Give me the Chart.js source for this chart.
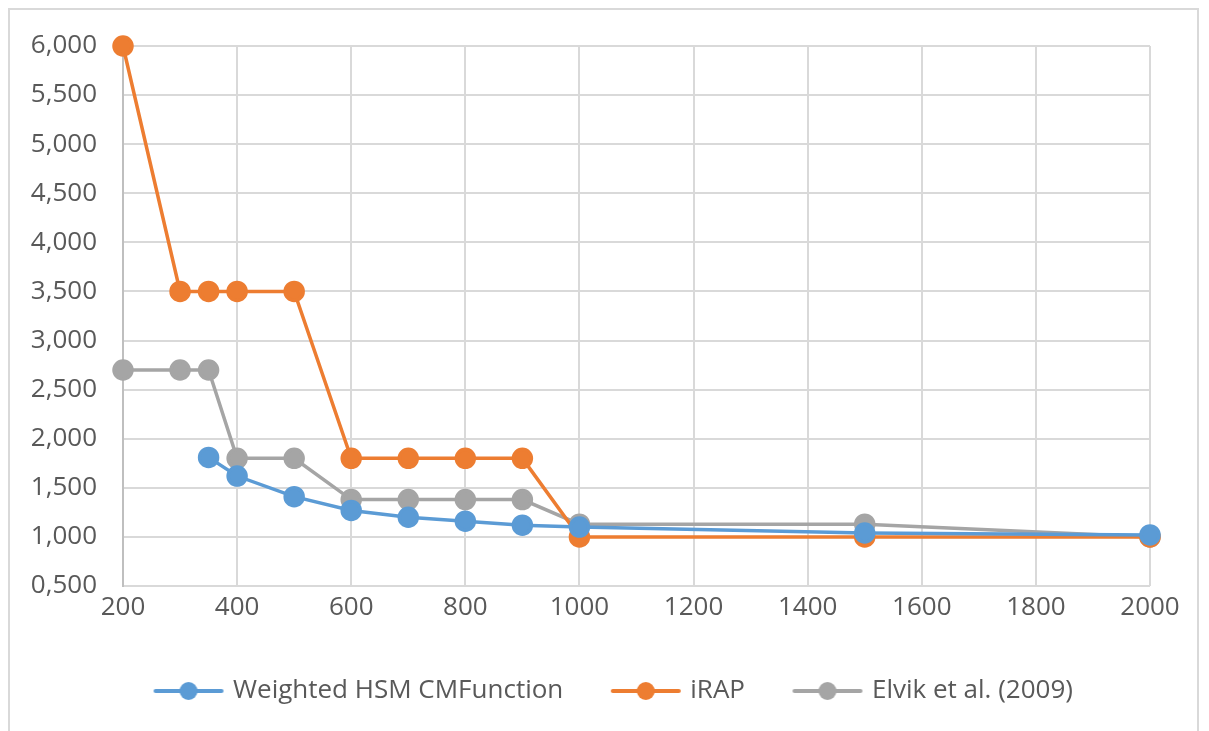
<!DOCTYPE html>
<html><head><meta charset="utf-8">
<script src="https://cdn.jsdelivr.net/npm/chart.js@4"></script>
<style>
html,body{margin:0;padding:0;background:#fff;}
#frame{position:absolute;left:8px;top:8px;width:1191px;height:740px;border:2px solid #d9d9d9;box-sizing:border-box;}
#wrap{position:absolute;left:0;top:0;width:1209px;height:731px;}
</style></head>
<body>
<div id="frame"></div>
<div id="wrap"><canvas id="c" width="1209" height="731"></canvas></div>
<script>
const weightedX = [350, 400, 500, 600, 700, 800, 900, 1000, 1500, 2000];
const weightedY = [1.81, 1.62, 1.41, 1.27, 1.20, 1.16, 1.12, 1.10, 1.04, 1.02];
const irapX = [200, 300, 350, 400, 500, 600, 700, 800, 900, 1000, 1500, 2000];
const irapY = [6.0, 3.5, 3.5, 3.5, 3.5, 1.8, 1.8, 1.8, 1.8, 1.0, 1.0, 1.0];
const elvikX = [200, 300, 350, 400, 500, 600, 700, 800, 900, 1000, 1500, 2000];
const elvikY = [2.7, 2.7, 2.7, 1.8, 1.8, 1.38, 1.38, 1.38, 1.38, 1.13, 1.13, 1.0];
const seriesNames = ['Weighted HSM CMFunction', 'iRAP', 'Elvik et al. (2009)'];
const seriesColors = ['#5B9BD5', '#ED7D31', '#A5A5A5'];

function pts(xs, ys){ return xs.map((x,i)=>({x:x, y:ys[i]})); }
function legendIcon(color){
  const cv = document.createElement('canvas');
  cv.width = 72; cv.height = 22;
  const g = cv.getContext('2d');
  g.strokeStyle = color; g.lineWidth = 4; g.lineCap = 'round';
  g.beginPath(); g.moveTo(3,11); g.lineTo(69,11); g.stroke();
  g.fillStyle = color; g.beginPath(); g.arc(36,11,9,0,Math.PI*2); g.fill();
  return cv;
}
const icons = seriesColors.map(legendIcon);
const font = "'Open Sans', 'Noto Sans', sans-serif";

const datasets = [
  {label: seriesNames[0], data: pts(weightedX, weightedY)},
  {label: seriesNames[1], data: pts(irapX, irapY)},
  {label: seriesNames[2], data: pts(elvikX, elvikY)}
].map((d,i)=>Object.assign(d,{
  borderColor: seriesColors[i], backgroundColor: seriesColors[i],
  pointBackgroundColor: seriesColors[i], pointBorderColor: seriesColors[i],
  borderWidth: 3.5, pointRadius: 9, pointHoverRadius: 9, tension: 0,
  pointStyle: 'circle', clip: false
}));

const shiftLegend = {
  id: 'shiftLegend',
  afterLayout(chart){ if (chart.legend){ chart.legend.left += 40; chart.legend.right += 40; } }
};

new Chart(document.getElementById('c'), {
  type: 'line',
  data: { datasets },
  plugins: [shiftLegend],
  options: {
    responsive: false, animation: false,
    layout: { padding: { left: 0, right: 59, top: 46, bottom: 17 } },
    plugins: {
      tooltip: { enabled: false },
      legend: {
        position: 'bottom',
        labels: {
          usePointStyle: true,
          pointStyleWidth: 63,
          font: { family: font, size: 26 },
          color: '#595959',
          padding: 51,
          generateLabels: (chart) => chart.data.datasets.map((d,i)=>({
            text: d.label, fillStyle: d.borderColor, strokeStyle: d.borderColor,
            pointStyle: icons[i], datasetIndex: i, hidden: false, lineWidth: 0, fontColor: '#595959'
          }))
        }
      }
    },
    scales: {
      x: {
        type: 'linear', min: 200, max: 2000,
        ticks: { stepSize: 200, color: '#595959', font: { family: font, size: 26 }, padding: 6,
          callback: (v)=> String(v) },
        grid: { color: '#d9d9d9', lineWidth: 2, drawTicks: false },
        border: { display: false },
        afterFit: (s)=>{ s.height = 41; }
      },
      y: {
        min: 0.5, max: 6.0,
        ticks: { stepSize: 0.5, color: '#595959', font: { family: font, size: 26 }, padding: 26,
          callback: (v)=> v.toFixed(3).replace('.', ',') },
        grid: { color: '#d9d9d9', lineWidth: 2, drawTicks: false },
        border: { color: '#bfbfbf', width: 2 },
        afterFit: (s)=>{ s.width = 123; }
      }
    }
  }
});
</script>
</body></html>
